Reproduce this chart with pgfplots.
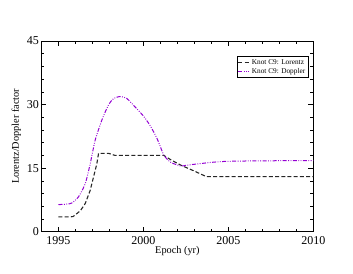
\documentclass[border=0pt]{standalone}
\usepackage{fontspec}
\setmainfont{Liberation Serif}
\usepackage{pgfplots}
\pgfplotsset{compat=1.18}
\definecolor{dopp}{RGB}{148,0,211}
\begin{document}
\begin{tikzpicture}[x=1pt,y=1pt]
\begin{axis}[
  at={(41.5pt,41.3pt)}, anchor=south west,
  scale only axis, width=271.8pt, height=190.7pt,
  xmin=1994, xmax=2010, ymin=0, ymax=45,
  xtick={1995,2000,2005,2010}, ytick={0,15,30,45},
  minor x tick num=4, minor y tick num=4,
  tick align=inside, tick pos=both,
  major tick length=5pt, minor tick length=3pt,
  tick style={black, line width=0.5pt},
  axis line style={black, line width=0.6pt},
  /pgf/number format/1000 sep={},
  /pgf/number format/assume math mode=true,
  tick label style={font=\fontsize{12}{13}\selectfont},
  xticklabel style={yshift=-1pt},
  yticklabel style={xshift=1pt},
  xlabel={Epoch (yr)}, ylabel={Lorentz/Doppler factor},
  label style={font=\fontsize{10.3}{11}\selectfont},
  xlabel style={yshift=5pt},
  ylabel style={yshift=-1pt},
  legend style={at={(0.982,0.921)}, anchor=north east, font=\fontsize{7.3}{8}\selectfont,
    draw=black, line width=0.4pt, inner sep=1pt, row sep=-1.5pt},
  legend cell align=left,
  legend image code/.code={\draw[#1] (0pt,0pt) -- (11pt,0pt);},
]
\addplot[black!85, line width=1.1pt, dash pattern=on 4pt off 2.2pt] coordinates {
(1995.0,3.5) (1995.5,3.5) (1995.85,3.55) (1996.0,4.0) (1996.3,5.0) (1996.58,6.7) (1996.87,9.8) (1997.07,13.0) (1997.26,16.1) (1997.36,18.5) (1997.94,18.5) (1998.33,18.0) (1999.0,18.0) (2000.0,18.0) (2001.2,18.0) (2001.6,17.0) (2002.2,15.7) (2003.0,14.3) (2003.7,13.0) (2005,13.0) (2010,13.0)
};
\addlegendentry{Knot C9: Lorentz}
\addplot[dopp, line width=1.0pt, dash pattern=on 4pt off 1.5pt on 0.8pt off 1.5pt on 0.8pt off 1.5pt, smooth, tension=0.4] coordinates {
(1995.0,6.4) (1995.5,6.5) (1995.8,6.8) (1996.19,8.3) (1996.58,11.4) (1996.87,16.1) (1997.16,21.6) (1997.55,26.3) (1997.94,29.9) (1998.24,31.4) (1998.63,31.9) (1999.0,31.5) (1999.4,29.9) (2000.0,27.3) (2000.4,25.0) (2000.8,22.0) (2001.2,18.1) (2001.6,16.4) (2002.2,15.5) (2002.55,15.7) (2003.3,16.05) (2004.1,16.4) (2004.9,16.6) (2006.3,16.7) (2008,16.75) (2010,16.8)
};
\addlegendentry{Knot C9: Doppler}
\end{axis}
\pgfresetboundingbox
\path[use as bounding box] (0,0) rectangle (353,273);
\end{tikzpicture}
\end{document}
